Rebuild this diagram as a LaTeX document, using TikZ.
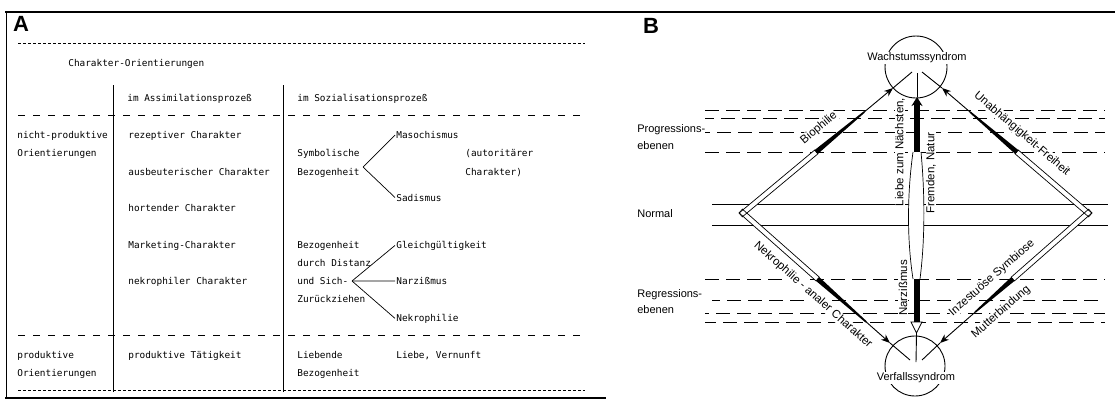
\documentclass[tikz,border=0pt]{standalone}
\usepackage{fontspec}
\usetikzlibrary{arrows.meta,calc}
\newfontfamily\typewriter{DejaVu Sans Mono}
\newfontfamily\labelsans{Liberation Sans}
\newcommand{\tw}{\typewriter\fontsize{9.4}{11}\selectfont}
\newcommand{\lb}{\labelsans\fontsize{11}{13}\selectfont}
\newcommand{\lbr}{\labelsans\fontsize{11.5}{13}\selectfont}
\newcommand{\panel}{\labelsans\fontsize{22}{22}\selectfont\bfseries}
\newcommand{\bandoutline}[2]{($(#1)!2.5pt!90:(#2)$) -- ($(#2)!2.5pt!-90:(#1)$) -- ($(#2)!2.5pt!90:(#1)$) -- ($(#1)!2.5pt!-90:(#2)$) -- cycle}
\newcommand{\taper}[2]{($(#1)!2.5pt!90:(#2)$) -- ($(#2)!0.8pt!-90:(#1)$) -- ($(#2)!0.8pt!90:(#1)$) -- ($(#1)!2.5pt!-90:(#2)$) -- cycle}

\begin{document}
\begin{tikzpicture}[x=1pt,y=-1pt,line width=0.7pt,
	tw/.style={font=\tw,anchor=base west,inner sep=0pt},
	lb/.style={font=\lb,inner sep=1pt},
	alongline/.style={font=\lbr,inner sep=0.5pt,fill=white},
	finedash/.style={dash pattern=on 3pt off 2pt},
	coarsedash/.style={dash pattern=on 7pt off 8pt},
	levelline/.style={line width=0.9pt,dash pattern=on 14pt off 7pt},
	tip/.style={line width=0.9pt,-{Stealth[length=9pt,width=7pt]}}]
	\useasboundingbox (0,0) rectangle (1115,405);
			\draw[line width=1.1pt] (5,12) -- (1115,12);
			\draw (6,12) -- (6,398);
			\draw[line width=1.1pt] (5,398) -- (606,398);
			\draw[finedash] (18,43) -- (585,43);
			\draw[coarsedash] (18,115) -- (585,115);
			\draw[coarsedash] (18,335) -- (585,335);
			\draw[finedash] (18,390) -- (585,390);
			\draw (113,85) -- (113,392);
			\draw (283,85) -- (283,392);
			\node[font=\panel,inner sep=0pt] (lblA) at (21,24) {A};
			\node[tw] (ttl) at (68,66.5) {Charakter-Orientierungen};
			\node[tw] (assim) at (127,101.5) {im Assimilationsprozeß};
			\node[tw] (sozial) at (297,101.5) {im Sozialisationsprozeß};
			\node[tw] (np1) at (17,138.5) {nicht-produktive};
			\node[tw] (np2) at (17,156.5) {Orientierungen};
			\node[tw] (rez) at (128,138.5) {rezeptiver Charakter};
			\node[tw] (ausb) at (128,175) {ausbeuterischer Charakter};
			\node[tw] (hort) at (128,211.5) {hortender Charakter};
			\node[tw] (mark) at (128,248) {Marketing-Charakter};
			\node[tw] (nekc) at (128,284.5) {nekrophiler Charakter};
			\node[tw] (symb) at (297,156.5) {Symbolische};
			\node[tw] (bez) at (297,175) {Bezogenheit};
			\node[tw] (maso) at (396,138.5) {Masochismus};
			\node[tw] (sadi) at (396,201) {Sadismus};
			\node[tw] (auto1) at (465,156.5) {(autoritärer};
			\node[tw] (auto2) at (465,175) {Charakter)};
			\node[tw] (dist1) at (297,248) {Bezogenheit};
			\node[tw] (dist2) at (297,266) {durch Distanz};
			\node[tw] (dist3) at (297,284.5) {und Sich-};
			\node[tw] (dist4) at (297,302.5) {Zurückziehen};
			\node[tw] (gleich) at (396,248) {Gleichgültigkeit};
			\node[tw] (narzA) at (396,284.5) {Narzißmus};
			\node[tw] (nekro) at (396,321) {Nekrophilie};
			\node[tw] (pr1) at (17,358.5) {produktive};
			\node[tw] (pr2) at (17,376.5) {Orientierungen};
			\node[tw] (prt) at (128,358.5) {produktive Tätigkeit};
			\node[tw] (lieb1) at (297,358.5) {Liebende};
			\node[tw] (lieb2) at (297,376.5) {Bezogenheit};
			\node[tw] (vern) at (396,358.5) {Liebe, Vernunft};
			\coordinate (fork1) at (363,167);
			\coordinate (fork2) at (352,281);
			\draw (fork1) -- ([xshift=-1pt]maso.west);
			\draw (fork1) -- ([xshift=-1pt]sadi.west);
			\draw (fork2) -- ([xshift=-1pt]gleich.west);
			\draw (fork2) -- ([xshift=-1pt]narzA.west);
			\draw (fork2) -- ([xshift=-1pt]nekro.west);
			\draw[levelline] (705,110) -- (1105,110);
			\draw[levelline,dash phase=5pt] (705,118) -- (1105,118);
			\draw[levelline,dash phase=9pt] (705,132) -- (1105,132);
			\draw[levelline] (705,152) -- (1105,152);
			\draw[line width=0.9pt] (712,204) -- (1108,204);
			\draw[line width=0.9pt] (712,225) -- (1108,225);
			\draw[levelline] (705,279) -- (1105,279);
			\draw[levelline,dash phase=6pt] (712,300) -- (1105,300);
			\draw[levelline,dash phase=10pt] (705,313) -- (1105,313);
			\draw[levelline,dash phase=3pt] (705,322) -- (1105,322);
			\node[font=\panel,inner sep=0pt] (lblB) at (651,26) {B};
			\node[lb,anchor=west] (prog1) at (636,130) {Progressions-};
			\node[lb,anchor=west] (prog2) at (636,146) {ebenen};
			\node[lb,anchor=west] (norm) at (636,214) {Normal};
			\node[lb,anchor=west] (regr1) at (636,295) {Regressions-};
			\node[lb,anchor=west] (regr2) at (636,310) {ebenen};
			\node[alongline,rotate=39.8] (bio) at (819,128) {Biophilie};
			\node[alongline,rotate=-40.6] (unab) at (1022,134) {Unabhängigkeit-Freiheit};
			\node[alongline,rotate=90] (naech) at (900,152) {Liebe zum Nächsten,};
			\node[alongline,rotate=90] (fremd) at (931,173) {Fremden, Natur};
			\node[alongline,rotate=-41.5] (nekr) at (813,295) {Nekrophilie - analer Charakter};
			\node[alongline,rotate=41.3] (inz) at (992,278) {Inzestuöse Symbiose};
			\node[alongline,rotate=41.3] (mutt) at (1001,312) {Mutterbindung};
			\node[alongline,rotate=90] (narzB) at (903,288) {Narzißmus};
			\coordinate (CL) at (743,213);
			\coordinate (CR) at (1088,213);
			\coordinate (T1) at (893,88);
			\coordinate (T2) at (942,88);
			\coordinate (T3) at (890,343);
			\coordinate (T4) at (940,343);
			\coordinate (E1) at (912,72);
			\coordinate (E2) at (922,72);
			\coordinate (E3) at (910,360);
			\coordinate (E4) at (922,360);
			\coordinate (S1) at ($(CL)!-3pt!(T1)$);
			\coordinate (S2) at ($(CR)!-3pt!(T2)$);
			\coordinate (S3) at ($(CL)!-3pt!(T3)$);
			\coordinate (S4) at ($(CR)!-3pt!(T4)$);
			\coordinate (P1) at ($(CL)!0.488!(T1)$);
			\coordinate (P2) at ($(CR)!0.488!(T2)$);
			\coordinate (P3) at ($(CL)!0.508!(T3)$);
			\coordinate (P4) at ($(CR)!0.508!(T4)$);
			\coordinate (Q1) at ($(CL)!0.808!(T1)$);
			\coordinate (Q2) at ($(CR)!0.808!(T2)$);
			\coordinate (Q3) at ($(CL)!0.838!(T3)$);
			\coordinate (Q4) at ($(CR)!0.762!(T4)$);
			\fill[white] \bandoutline{S1}{P1};
			\fill[white] \bandoutline{S2}{P2};
			\fill[white] \bandoutline{S3}{P3};
			\fill[white] \bandoutline{S4}{P4};
			\draw \bandoutline{S1}{P1};
			\draw \bandoutline{S2}{P2};
			\draw \bandoutline{S3}{P3};
			\draw \bandoutline{S4}{P4};
			\fill \taper{P1}{Q1};
			\fill \taper{P2}{Q2};
			\fill \taper{P3}{Q3};
			\fill \taper{P4}{Q4};
			\draw[tip] (P1) -- (T1);
			\draw[tip] (P2) -- (T2);
			\draw[tip] (P3) -- (T3);
			\draw[tip] (P4) -- (T4);
			\draw[line width=0.9pt] (T1) -- (E1);
			\draw[line width=0.9pt] (T2) -- (E2);
			\draw[line width=0.9pt] (T3) -- (E3);
			\draw[line width=0.9pt] (T4) -- (E4);
			\coordinate (ctop) at (917,73);
			\coordinate (cup) at (917,97);
			\coordinate (cbarT) at (917,152);
			\coordinate (cbarB) at (916.5,279);
			\coordinate (cdown) at (916.5,323);
			\coordinate (cbot) at (916,362);
			\fill[white] (913,152) .. controls (907,195) and (907,240) .. (913,279) -- (920,279) .. controls (925,240) and (925,195) .. (921,152) -- cycle;
			\draw (913,152) .. controls (907,195) and (907,240) .. (913,279);
			\draw (921,152) .. controls (925,195) and (925,240) .. (920,279);
			\draw[line width=6pt,-{Stealth[length=9pt,width=11pt]}] (cbarT) -- (cup);
			\draw[line width=0.9pt] (cup) -- (ctop);
			\draw[line width=6pt] (cbarB) -- (cdown);
			\draw[line width=0.8pt,fill=white] (911,322) -- (922,322) -- (916.5,333) -- cycle;
			\draw[line width=0.9pt] (916.5,333) -- (cbot);
			\node[draw,circle,line width=0.9pt,minimum size=62pt,inner sep=0pt] (wring) at (916,67) {};
			\node[lb,fill=white] (wach) at (917,58) {Wachstumssyndrom};
			\node[draw,circle,line width=0.9pt,minimum size=60pt,inner sep=0pt] (vring) at (915,366) {};
			\node[lb,fill=white] (verf) at (916,378) {Verfallssyndrom};
\end{tikzpicture}
\end{document}
